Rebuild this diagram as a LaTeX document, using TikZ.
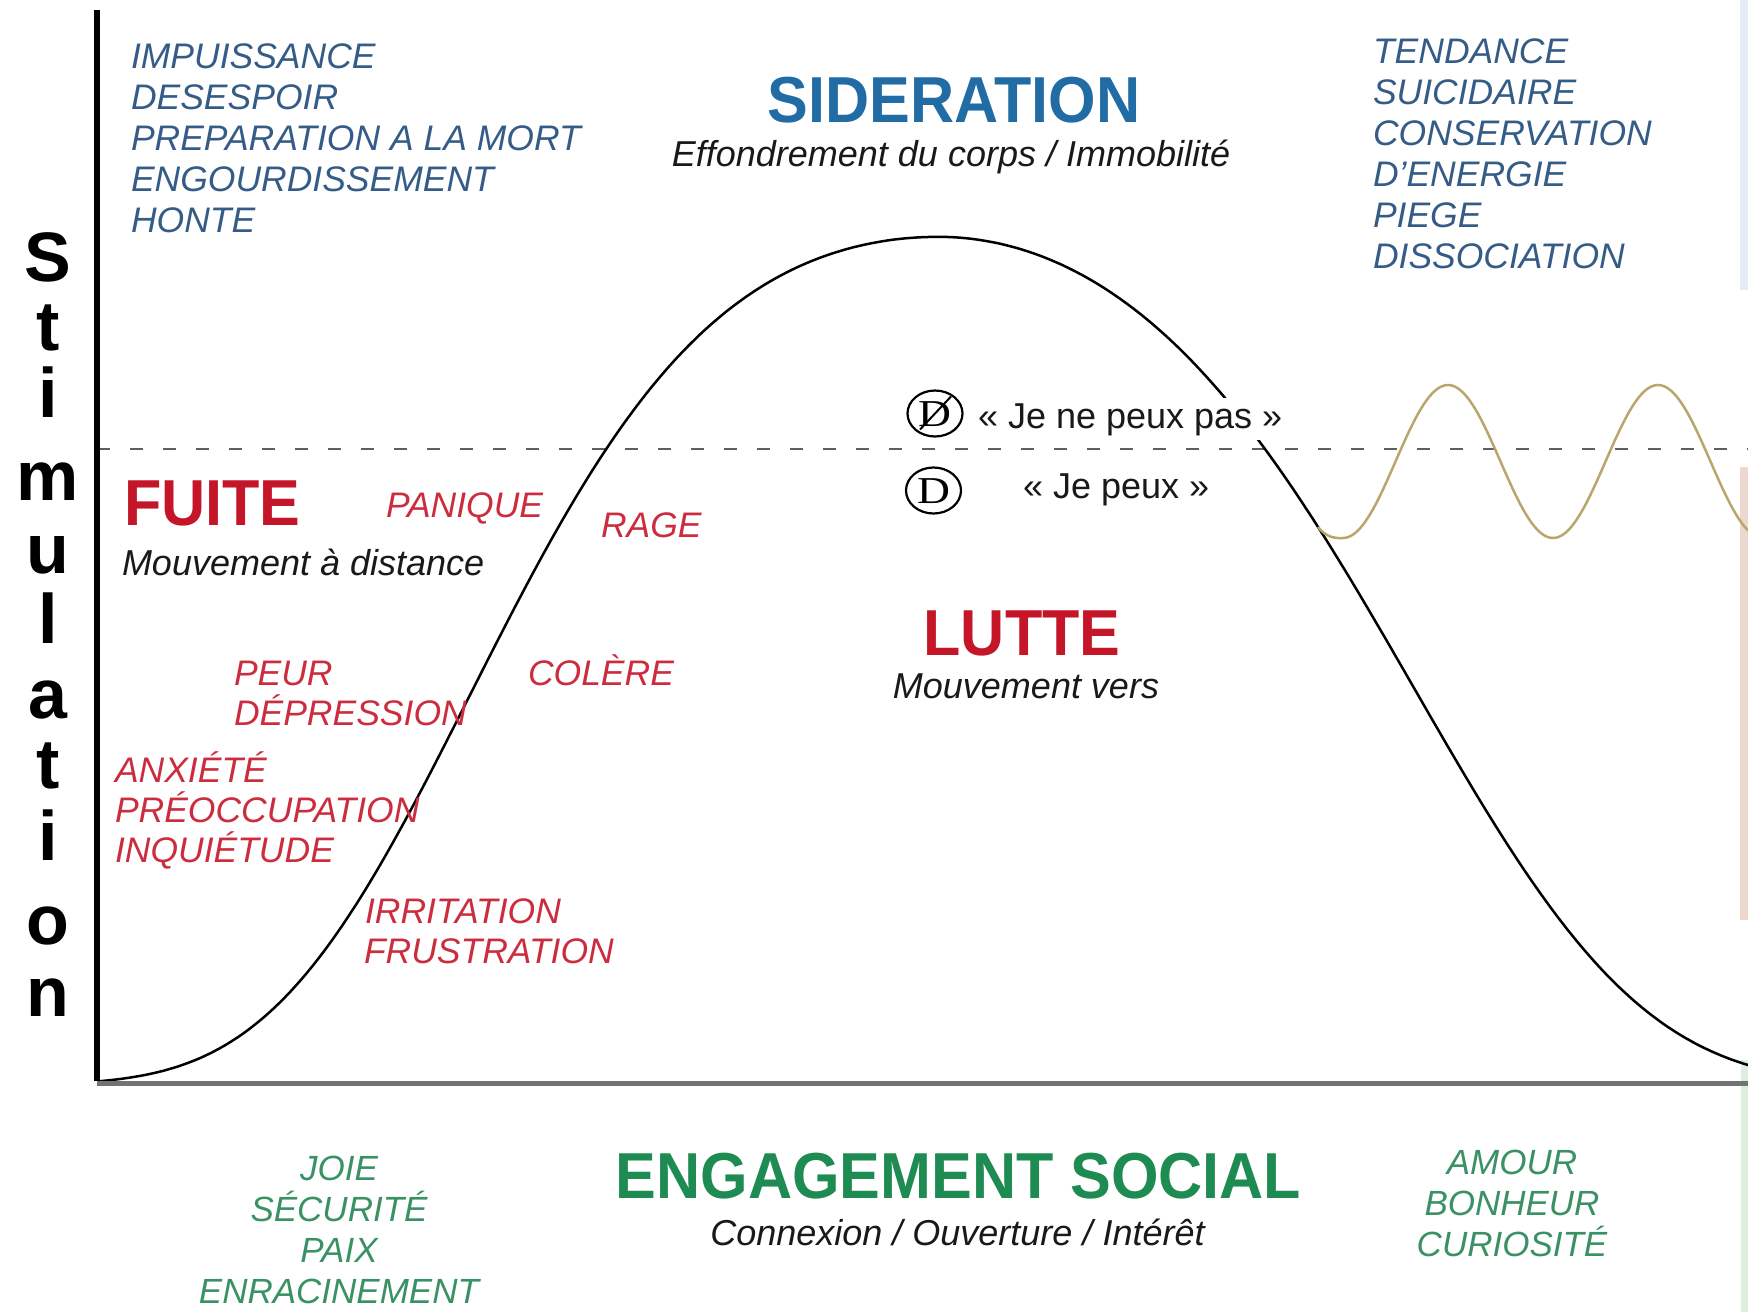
\documentclass[tikz,border=0pt]{standalone}
\usepackage{fontspec}
\usetikzlibrary{shapes.geometric}
\setmainfont{Liberation Sans}
\newfontfamily\titlefont[FakeStretch=0.94]{Liberation Sans}
\newfontfamily\serifD[FakeStretch=1.2]{Liberation Serif}

\definecolor{slateblue}{RGB}{52,92,135}
\definecolor{sidblue}{RGB}{33,108,165}
\definecolor{fuitered}{RGB}{196,22,40}
\definecolor{listred}{RGB}{204,45,62}
\definecolor{socgreen}{RGB}{30,140,82}
\definecolor{listgreen}{RGB}{58,145,100}
\definecolor{wavetan}{RGB}{185,166,108}
\definecolor{axisgray}{RGB}{115,115,115}
\definecolor{dashgray}{RGB}{95,95,95}
\definecolor{subblack}{RGB}{25,25,25}
\definecolor{edgeblue}{RGB}{230,236,243}
\definecolor{edgepeach}{RGB}{238,215,206}
\definecolor{edgegreen}{RGB}{222,238,222}

\begin{document}
\begin{tikzpicture}[x=1pt,y=-1pt,
  txt/.style={inner sep=0pt, outer sep=0pt},
  bluelist/.style={txt, anchor=base west, text=slateblue, font=\fontsize{35.5}{41}\selectfont\itshape},
  redlist/.style={txt, anchor=base west, text=listred, font=\fontsize{35.5}{40}\selectfont\itshape},
  greenlist/.style={txt, anchor=base, text=listgreen, font=\fontsize{35}{41}\selectfont\itshape},
  headline/.style={txt, font=\titlefont\bfseries\fontsize{65}{70}\selectfont},
  subline/.style={txt, text=subblack, font=\fontsize{36}{40}\selectfont\itshape},
  stimletter/.style={txt, anchor=base, text height=50pt, text depth=0pt, font=\bfseries\fontsize{70}{70}\selectfont},
  saying/.style={txt, anchor=base west, text=subblack, font=\fontsize{36}{40}\selectfont},
  dsymbol/.style={draw, ellipse, line width=2.2pt, minimum width=55pt, minimum height=46pt, inner sep=0pt},
  dletter/.style={txt, font=\serifD\fontsize{38}{38}\selectfont},
  bellcurve/.style={line width=2.5pt, black, line join=round},
  wave/.style={line width=2.5pt, wavetan},
  dashline/.style={line width=2pt, dashgray, dash pattern=on 13pt off 20pt},
]
% page
\fill[white] (0,0) rectangle (1748,1312);
\useasboundingbox (0,0) rectangle (1748,1312);

% faint bands along the right edge
\fill[edgeblue] (1740,0) rectangle (1748,290);
\fill[edgepeach] (1740,467) rectangle (1748,920);
\fill[edgegreen] (1741,1060) rectangle (1748,1312);

% axes
\coordinate (ytop) at (97,10);
\coordinate (origin) at (97,1083);
\coordinate (xend) at (1748,1083);
\coordinate (dstart) at (97,449);
\coordinate (dend) at (1748,449);

\draw[dashline] (dstart) -- (dend);

% stimulation curve: two bell-shaped halves meeting at the summit (938,237)
\begin{scope}
\clip (0,0) rectangle (1748,1312);
\draw[bellcurve]
  plot[domain=98:938, samples=180]
    (\x, {1085-848*exp(-(0.01676*((938-\x)/100)^2 + 0.0008597*((938-\x)/100)^4))})
  -- plot[domain=938:1748, samples=180]
    (\x, {1085-848*exp(-(0.02105*((\x-938)/100)^2 + 0.0005465*((\x-938)/100)^4))});
% oscillation branching off the curve
\draw[wave] (1318,527) .. controls (1326,537) and (1334,538.5) .. (1343,538)
  -- plot[domain=1343:1748, samples=160] (\x, {461.5+76.5*cos(1.7142857*(\x-1343))});
\end{scope}

\draw[axisgray, line width=5pt] (origin) -- (xend);
\draw[black, line width=5.5pt] (ytop) -- ([yshift=2.5pt]origin);

% vertical axis title
\foreach \ch/\yb [count=\i] in {S/281, t/350, i/417, m/500, u/573, l/643, a/718, t/788, i/860, o/944, n/1016}
  \node[stimletter] (stim\i) at (48,\yb) {\ch};

% top-left list
\node[bluelist] (impuissance) at (131,68) {IMPUISSANCE};
\node[bluelist] (desespoir) at (131,109) {DESESPOIR};
\node[bluelist] (preparation) at (131,150) {PREPARATION A LA MORT};
\node[bluelist] (engourd) at (131,191) {ENGOURDISSEMENT};
\node[bluelist] (honte) at (131,232) {HONTE};

% top-right list
\node[bluelist] (tendance) at (1373,63) {TENDANCE};
\node[bluelist] (suicidaire) at (1373,104) {SUICIDAIRE};
\node[bluelist] (conservation) at (1373,145) {CONSERVATION};
\node[bluelist] (denergie) at (1373,186) {D'ENERGIE};
\node[bluelist] (piege) at (1373,227) {PIEGE};
\node[bluelist] (dissociation) at (1373,268) {DISSOCIATION};

% sideration
\node[headline, anchor=base, text=sidblue] (sideration) at (954,122) {SIDERATION};
\node[subline, anchor=base] (effondrement) at (951,166) {Effondrement du corps / Immobilité};

% fuite
\node[headline, anchor=base west, text=fuitered] (fuite) at (124,525) {FUITE};
\node[subline, anchor=base west] (distance) at (122,575) {Mouvement à distance};

% red emotions
\node[redlist] (panique) at (386,517) {PANIQUE};
\node[redlist] (rage) at (601,537) {RAGE};
\node[redlist] (peur) at (234,685) {PEUR};
\node[redlist] (depression) at (234,725) {DÉPRESSION};
\node[redlist] (colere) at (528,685) {COLÈRE};
\node[redlist] (anxiete) at (115,782) {ANXIÉTÉ};
\node[redlist] (preocc) at (115,822) {PRÉOCCUPATION};
\node[redlist] (inquietude) at (115,862) {INQUIÉTUDE};
\node[redlist] (irritation) at (365,923) {IRRITATION};
\node[redlist] (frustration) at (364,963) {FRUSTRATION};

% lutte
\node[headline, anchor=base, text=fuitered] (lutte) at (1022,655) {LUTTE};
\node[subline, anchor=base] (vers) at (1026,698) {Mouvement vers};

% can / cannot markers
\node[dsymbol] (dno) at (935,413.5) {};
\node[dletter] (dnoletter) at (935,414) {D};
\draw[line width=2pt] ([shift={(-15,16)}]dno.center) -- ([shift={(16,-17)}]dno.center);
\node[saying, fill=white, inner xsep=2pt, inner ysep=5pt] (jenepeux) at (976,428) {« Je ne peux pas »};

\node[dsymbol] (dyes) at (933.5,490.5) {};
\node[dletter] (dyesletter) at (933.5,491) {D};
\node[saying] (jepeux) at (1023,498) {« Je peux »};

% social engagement
\node[headline, anchor=base, text=socgreen] (engagement) at (958.5,1198) {ENGAGEMENT SOCIAL};
\node[subline, anchor=base] (connexion) at (957.5,1245) {Connexion / Ouverture / Intérêt};

\node[greenlist] (joie) at (339,1180) {JOIE};
\node[greenlist] (securite) at (339,1221) {SÉCURITÉ};
\node[greenlist] (paix) at (339,1262) {PAIX};
\node[greenlist] (enracinement) at (339,1303) {ENRACINEMENT};

\node[greenlist] (amour) at (1512,1174) {AMOUR};
\node[greenlist] (bonheur) at (1512,1215) {BONHEUR};
\node[greenlist] (curiosite) at (1512,1256) {CURIOSITÉ};
\end{tikzpicture}
\end{document}
